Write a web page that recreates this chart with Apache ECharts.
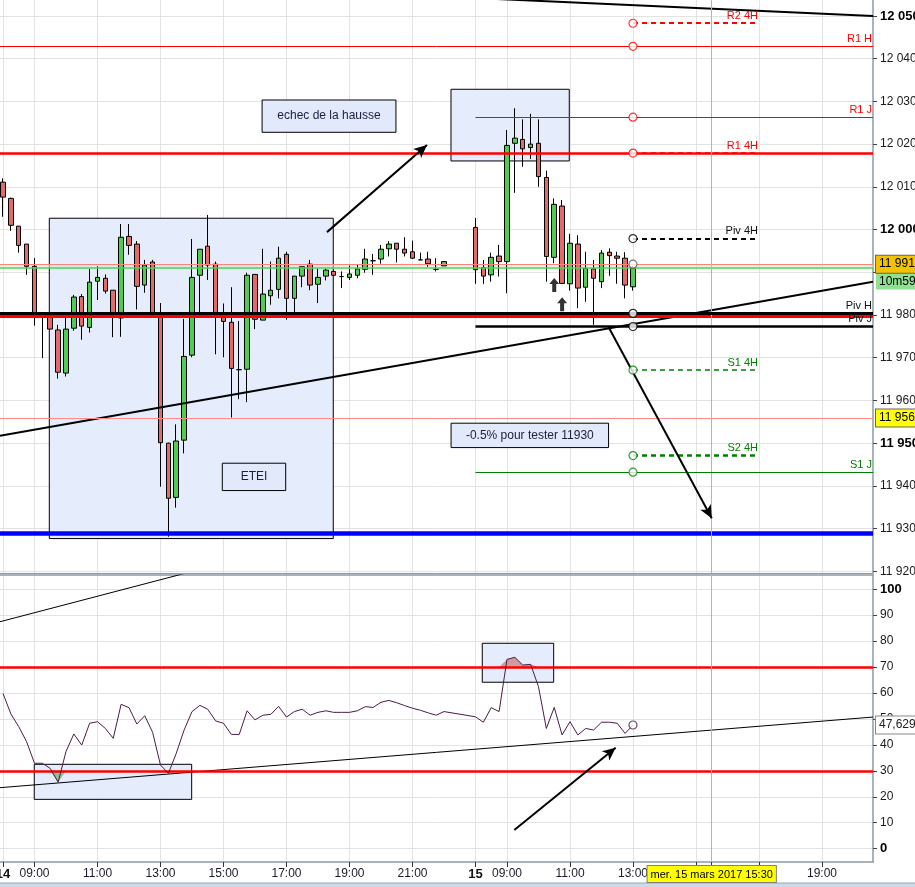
<!DOCTYPE html>
<html><head><meta charset="utf-8">
<script src="https://cdn.jsdelivr.net/npm/echarts/dist/echarts.min.js"></script>
<style>html,body{margin:0;padding:0;background:#fff;}#c{width:915px;height:887px;}</style>
</head><body><div id="c"></div>
<script>
// ---------- DATA ----------
// 15-minute bars, session-compressed time axis (session 08:00 -> 23:00, then next day 08:00)
const FIRST_DAY = 14, SESSION_OPEN_H = 8, SLOTS_PER_SESSION = 60;
const ohlc14Start = '14 08:00';
const ohlc15Start = '15 08:00';
// [open, close, low, high]
const ohlc14 = [
[12011.1,12007.6,12003.0,12012.0],[12007.3,12001.0,11999.7,12007.5],[12000.8,11996.3,11994.6,12000.8],[11996.6,11991.4,11989.4,11996.6],
[11991.4,11979.9,11977.5,11993.3],[11980.2,11980.2,11969.9,11980.5],[11980.0,11976.7,11976.7,11980.0],[11976.5,11966.6,11965.1,11977.7],
[11966.4,11976.7,11965.6,11979.3],[11976.9,11984.2,11976.3,11984.7],[11984.3,11977.4,11974.2,11984.9],[11977.1,11987.7,11975.9,11990.8],
[11987.9,11988.8,11983.5,11991.4],[11988.6,11985.6,11985.0,11989.5],[11985.8,11979.6,11974.8,11985.8],[11979.3,11998.2,11974.9,12001.3],
[11998.4,11996.3,11994.1,12001.3],[11996.6,11986.7,11981.3,11997.3],[11987.0,11991.7,11985.2,11992.9],[11992.4,11979.9,11979.5,11992.9],
[11980.0,11950.1,11939.8,11982.8],[11950.0,11937.1,11928.1,11950.1],[11937.3,11950.5,11934.9,11954.4],[11950.7,11970.3,11947.6,11979.1],
[11970.6,11988.8,11970.1,11997.8],[11989.3,11995.4,11979.9,11995.4],[11996.1,11991.7,11988.2,12003.4],[11991.9,11979.9,11970.8,11992.5],
[11980.3,11978.5,11970.1,11982.7],[11978.3,11967.5,11956.0,11986.5],[11967.2,11967.2,11960.3,11978.6],[11967.3,11989.3,11959.6,11989.9],
[11989.5,11979.0,11976.7,11989.5],[11978.8,11984.9,11978.8,11995.5],[11984.5,11985.8,11982.4,11992.5],[11986.0,11993.3,11983.9,11996.0],
[11994.2,11983.9,11978.9,11994.8],[11983.9,11989.1,11979.9,11989.1],[11989.1,11991.3,11986.5,11991.3],[11991.9,11987.0,11985.8,11992.9],
[11987.2,11988.8,11982.8,11990.9],[11989.1,11990.5,11988.1,11990.9],[11990.2,11989.3,11989.3,11990.3],[11989.0,11989.0,11986.3,11990.2],
[11988.8,11989.6,11988.2,11991.6],[11989.3,11990.8,11988.6,11991.7],[11990.7,11993.1,11989.9,11995.5],[11992.7,11992.7,11989.4,11994.3],
[11993.1,11995.4,11992.0,11996.4],[11995.5,11996.6,11993.7,11997.3],[11996.8,11995.4,11992.3,11996.8],[11995.4,11994.5,11993.7,11998.2],
[11994.8,11993.3,11993.1,11997.4],[11992.9,11992.9,11992.9,11994.6],[11993.1,11992.0,11991.3,11994.8],[11990.7,11990.7,11990.2,11993.3],
[11991.5,11992.5,11991.5,11992.5]
];
const ohlc15 = [
[12000.5,11990.6,11987.3,12002.7],[11991.1,11989.1,11987.3,11992.9],[11989.4,11993.5,11987.8,11994.6],[11993.8,11992.5,11989.0,11996.4],
[11992.5,12019.7,11985.1,12023.3],[12020.2,12021.4,12008.6,12028.4],[12021.1,12018.9,12014.7,12025.8],[12019.2,12020.0,12016.5,12027.1],
[12020.2,12012.4,12010.0,12025.8],[12012.2,11993.7,11987.8,12013.8],[11993.5,12005.9,11992.1,12007.3],[12005.5,11987.4,11987.4,12006.9],
[11987.3,11996.8,11985.7,11999.0],[11996.6,11986.3,11981.6,11998.7],[11986.5,11990.9,11983.1,11994.8],[11990.8,11988.6,11977.7,11992.9],
[11987.8,11994.5,11986.3,11995.2],[11994.7,11993.9,11989.2,11995.6],[11993.8,11993.3,11987.3,11994.8],[11993.3,11987.0,11983.9,11994.7],
[11986.6,11990.9,11985.7,11991.5]
];
const rsi14 = [59.8,51.9,47.0,41.2,32.9,32.9,30.9,25.6,37.4,44.2,39.9,48.3,48.9,46.3,42.5,55.6,54.3,48.0,51.2,44.8,
32.2,29.0,36.7,45.7,52.8,55.2,53.7,49.2,48.3,44.0,44.0,53.1,49.6,51.4,51.7,54.8,50.7,52.8,53.7,51.4,
52.5,53.1,52.5,52.5,52.5,53.1,54.7,54.4,56.4,57.1,56.2,55.1,54.1,53.3,52.3,51.4,52.8];
const rsi15 = [50.8,48.7,54.3,52.8,72.9,73.7,70.7,71.0,62.4,46.3,54.4,43.8,48.9,43.8,46.3,45.7,48.7,48.7,48.3,44.4,47.629];
const rsiLast = '47,629';

const xTickTimes = ['14 08:00','14 09:00','14 11:00','14 13:00','14 15:00','14 17:00','14 19:00','14 21:00','15 08:00','15 09:00','15 11:00','15 13:00','15 15:00','15 15:30','15 17:00','15 19:00'];
const xLabelTimes = ['14 08:00','14 09:00','14 11:00','14 13:00','14 15:00','14 17:00','14 19:00','14 21:00','15 08:00','15 09:00','15 11:00','15 13:00','15 19:00'];
const xLabelTexts = ['14','09:00','11:00','13:00','15:00','17:00','19:00','21:00','15','09:00','11:00','13:00','19:00'];
const priceTicks = [11920,11930,11940,11950,11960,11970,11980,11990,12000,12010,12020,12030,12040,12050];
const rsiTicks = [0,10,20,30,40,50,60,70,80,90,100];

const pivotNames = ['R2 4H','R1 H','R1 J','R1 4H','Piv 4H','Piv H','Piv J','S1 4H','S2 4H','S1 J'];
const pivotValues = [12048.3,12042.9,12026.3,12017.9,11997.9,11980.4,11977.3,11967.1,11947.1,11943.2];
const pivotAnchorTime = '15 13:00', pivot4HEndTime = '15 17:00', dayStartTime = '15 08:00';

const lastPriceA = 11991.9, lastPriceB = 11991.1, lastPriceText = '11 991,', timerText = '10m59s';
const alertLevel = 11955.9, alertText = '11 956,';
const resistLine = 12017.9, supportRed = 11979.7, targetBlue = 11928.8;
const rsiHigh = 70, rsiLow = 30;
const cursorTime = '15 15:30', cursorText = 'mer. 15 mars 2017 15:30';

// trend lines [slot, value]
const trendPrice = [[-0.381,11951.7],[110.48,11987.8]];
const trendTop = [[60,12054.2],[110.48,12050.0]];
const rsiTrendUp = [[-0.381,87.4],[30,111.5]];
const rsiTrendLow = [[-0.381,23.5],[110.48,50.7]];
// annotations
const zoneBig = [[5.88,11927.66],[41.94,12002.65]];
const zoneTop = [[56.89,12016.06],[71.91,12032.84]];
const rsiZone1 = [[3.97,19.0],[23.96,32.5]];
const rsiZone2 = [[60.86,64.1],[69.93,79.1]];
const notes = [
  {text:'echec de la hausse', from:[32.9,12022.77], to:[49.9,12030.33]},
  {text:'ETEI', from:[27.85,11938.9], to:[35.9,11945.3]},
  {text:'-0.5% pour tester 11930', from:[56.9,11948.96], to:[76.9,11954.67]}
];
const arrowsPrice = [[[41.14,11999.4],[53.84,12019.8]],[[76.86,11977.3],[90.0,11932.4]]];
const arrowRsi = [[64.93,7.2],[77.8,38.9]];
const blockArrows = [[70,11987.0],[71,11982.5]];

// ---------- HELPERS ----------
function slotOf(t){const p=t.split(' ');const hm=p[1].split(':').map(Number);return (Number(p[0])-FIRST_DAY)*SLOTS_PER_SESSION+(hm[0]-SESSION_OPEN_H)*4+hm[1]/15;}
function fmt(v){return String(v).replace(/\B(?=(\d{3})+(?!\d))/g,' ');}
const X_MIN=-0.381, X_MAX=110.48;
const PRICE_MIN=11919.6, PRICE_MAX=12053.74, RSI_MIN=-5.12, RSI_MAX=105.39;
const FONT='Liberation Sans, Arial, sans-serif';
const FS=11;
const GRID_C='#e3e3e3', AXIS_C='#8c9aa6';
const RED='#ff0000', GREEN='#008000', BLACK='#000000';

const s14=slotOf(ohlc14Start), s15=slotOf(ohlc15Start);
const candles=[];
ohlc14.forEach((d,i)=>candles.push([s14+i,d[0],d[1],d[2],d[3]]));
ohlc15.forEach((d,i)=>candles.push([s15+i,d[0],d[1],d[2],d[3]]));
const rsiData=rsi14.map((v,i)=>[s14+i,v]).concat(rsi15.map((v,i)=>[s15+i,v]));

const tickSlots=xTickTimes.map(slotOf);
const labelSlots=xLabelTimes.map(slotOf);
const labelBySlot={};labelSlots.forEach((s,i)=>labelBySlot[s]=xLabelTexts[i]);

const aX=slotOf(pivotAnchorTime), eX=slotOf(pivot4HEndTime), dX=slotOf(dayStartTime);
const pivStyle={
 'R2 4H':{c:RED,w:2,dash:'dashed'},'R1 H':{c:RED,w:1,dash:'solid'},'R1 J':{c:RED,w:1,dash:'solid'},
 'R1 4H':{c:RED,w:1.5,dash:'dashed'},'Piv 4H':{c:BLACK,w:2,dash:'dashed'},'Piv H':{c:BLACK,w:3,dash:'solid'},
 'Piv J':{c:BLACK,w:2.5,dash:'solid'},'S1 4H':{c:GREEN,w:1.5,dash:'dashed'},'S2 4H':{c:GREEN,w:2.5,dash:'dashed'},'S1 J':{c:GREEN,w:1,dash:'solid'}
};
const levelLines=[];
pivotNames.forEach((n,i)=>{
  const v=pivotValues[i],st=pivStyle[n],per=n.split(' ')[1];
  const ls={color:st.c,width:st.w,type:st.dash==='dashed'?[5,4]:'solid'};
  const lb={show:true,formatter:n,position:'insideEndTop',distance:[1,2],color:st.c===BLACK?'#111':st.c,fontSize:FS,fontFamily:FONT};
  if(per==='H') levelLines.push({yAxis:v,lineStyle:ls,label:lb});
  else if(per==='J') levelLines.push([{coord:[dX,v],lineStyle:ls,label:lb},{coord:[X_MAX,v]}]);
  else levelLines.push([{coord:[aX,v],lineStyle:ls,label:lb},{coord:[eX,v]}]);
});
const noLbl={show:false};
const boxLbl=(txt,bg)=>({show:true,position:'end',distance:3,formatter:txt,backgroundColor:bg,borderColor:'#666',borderWidth:1,padding:[3,3,2,3],color:'#000',fontSize:FS+1,fontFamily:FONT});
const plainLines=[
 {yAxis:resistLine,lineStyle:{color:RED,width:2.5,type:'solid'},label:noLbl},
 {yAxis:supportRed,lineStyle:{color:RED,width:3,type:'solid'},label:noLbl},
 {yAxis:targetBlue,lineStyle:{color:'#0000ff',width:4.5,type:'solid'},label:noLbl},
 {yAxis:alertLevel,lineStyle:{color:'#ff8a8a',width:1,type:'solid'},label:boxLbl(alertText,'#ffff00')},
 {yAxis:lastPriceB,lineStyle:{color:'#4cd64c',width:1.5,type:'solid'},label:{show:true,position:'end',distance:3,formatter:'{s|}\n{g|'+timerText+'}',rich:{s:{height:27},g:{backgroundColor:'#8fe08f',padding:[3,3,2,3],color:'#000',fontSize:FS+1,fontFamily:FONT}}}},
 {yAxis:lastPriceA,lineStyle:{color:'#ff8080',width:1,type:'solid'},label:boxLbl(lastPriceText,'#f3c300')},
 {xAxis:slotOf(cursorTime),lineStyle:{color:'#f39a9a',width:1,type:'solid'},label:noLbl}
];
const circleData=pivotValues.map((v,i)=>({value:[aX,v],itemStyle:{borderColor:pivStyle[pivotNames[i]].c}}));
circleData.push({value:[aX,lastPriceA],itemStyle:{borderColor:'#555'}});

const boxStyle={color:'rgba(228,235,252,0.95)',borderColor:'#000',borderWidth:1};
const noteStyle={color:'#e2e9fa',borderColor:'#000',borderWidth:1};
function area(a,name){return [{coord:a[0],name:name||''},{coord:a[1]}];}
const gridBase={left:0,right:42,containLabel:false,outerBoundsMode:'none'};

const option={
 animation:false,
 textStyle:{fontFamily:FONT},
 graphic:[
  {type:'rect',shape:{x:0,y:883,width:915,height:4},style:{fill:'#cddbe7'},silent:true},
  {type:'line',shape:{x1:0,y1:883,x2:915,y2:883},style:{stroke:'#8fa9bd',lineWidth:1},silent:true}
 ],
 grid:[Object.assign({top:0,height:573},gridBase),Object.assign({top:575,height:287},gridBase)],
 xAxis:[
  {type:'value',gridIndex:0,min:X_MIN,max:X_MAX,axisLine:{show:true,onZero:false,lineStyle:{color:AXIS_C}},
   axisTick:{show:false,customValues:tickSlots},axisLabel:{show:false,customValues:labelSlots},splitLine:{show:true,lineStyle:{color:GRID_C}}},
  {type:'value',gridIndex:1,position:'bottom',min:X_MIN,max:X_MAX,axisLine:{show:true,onZero:false,lineStyle:{color:AXIS_C,width:1.5}},
   axisTick:{show:true,length:5,customValues:tickSlots,lineStyle:{color:'#333'}},
   axisLabel:{show:true,customValues:labelSlots,margin:6,fontSize:FS+1,color:'#1a1a2a',fontFamily:FONT,
     formatter:v=>{const t=labelBySlot[v]||labelBySlot[Math.round(v)];if(!t)return '';return t.indexOf(':')<0?'{b|'+t+'}':t;},
     rich:{b:{fontWeight:'bold',fontSize:FS+2,color:'#111'}}},
   splitLine:{show:true,lineStyle:{color:GRID_C}}},
  {type:'value',gridIndex:1,position:'top',min:X_MIN,max:X_MAX,axisLine:{show:true,onZero:false,lineStyle:{color:AXIS_C,width:1.5}},
   axisTick:{show:false},axisLabel:{show:false},splitLine:{show:false}}
 ],
 yAxis:[
  {type:'value',gridIndex:0,position:'right',min:PRICE_MIN,max:PRICE_MAX,axisLine:{show:true,onZero:false,lineStyle:{color:AXIS_C,width:1.5}},
   axisTick:{show:true,length:4,customValues:priceTicks,lineStyle:{color:'#444'}},
   axisLabel:{show:true,customValues:priceTicks,margin:7,fontSize:FS+1,color:'#1a1a1a',fontFamily:FONT,
     formatter:v=>{const r=Math.round(v);const s=fmt(r);return r%50===0?'{b|'+s+'}':s;},rich:{b:{fontWeight:'bold',fontSize:FS+2,color:'#000'}}},
   splitLine:{show:true,lineStyle:{color:GRID_C}}},
  {type:'value',gridIndex:1,position:'right',min:RSI_MIN,max:RSI_MAX,axisLine:{show:true,onZero:false,lineStyle:{color:AXIS_C,width:1.5}},
   axisTick:{show:true,length:4,customValues:rsiTicks,lineStyle:{color:'#444'}},
   axisLabel:{show:true,customValues:rsiTicks,margin:7,fontSize:FS+1,color:'#1a1a1a',fontFamily:FONT,
     formatter:v=>{const r=Math.round(v);return (r===0||r===100)?'{b|'+r+'}':String(r);},rich:{b:{fontWeight:'bold',fontSize:FS+2,color:'#000'}}},
   splitLine:{show:true,lineStyle:{color:GRID_C}}}
 ],
 series:[
  {type:'line',xAxisIndex:0,yAxisIndex:0,data:[],z:1,silent:true,
   markArea:{silent:true,itemStyle:boxStyle,label:{show:false},data:[area(zoneBig),area(zoneTop)]}},
  {type:'line',xAxisIndex:0,yAxisIndex:0,data:[],z:1,silent:true,
   markArea:{silent:true,itemStyle:{color:'rgba(205,240,205,0.6)'},label:{show:false},data:[[{yAxis:lastPriceB},{yAxis:lastPriceA}]]}},
  {type:'candlestick',xAxisIndex:0,yAxisIndex:0,data:candles,encode:{x:0,y:[1,2,3,4]},barWidth:5,z:3,
   itemStyle:{color:'#50cd50',color0:'#e46a6a',borderColor:'#000',borderColor0:'#000',borderColorDoji:'#000',borderWidth:1}},
  {type:'line',xAxisIndex:0,yAxisIndex:0,data:trendPrice,symbol:'none',clip:true,z:4,lineStyle:{color:'#000',width:2},silent:true},
  {type:'line',xAxisIndex:0,yAxisIndex:0,data:trendTop,symbol:'none',clip:true,z:4,lineStyle:{color:'#000',width:2},silent:true},
  {type:'line',xAxisIndex:0,yAxisIndex:0,data:[],z:5,silent:true,
   markLine:{silent:true,symbol:['none','none'],animation:false,data:plainLines.concat(levelLines)}},
  {type:'line',xAxisIndex:0,yAxisIndex:0,data:[],z:6,silent:true,
   markLine:{silent:true,symbol:['none','arrow'],symbolSize:[9,13],lineStyle:{color:'#000',width:2,type:'solid'},label:{show:false},
     data:arrowsPrice.map(a=>[{coord:a[0]},{coord:a[1]}])}},
  {type:'scatter',xAxisIndex:0,yAxisIndex:0,data:circleData,symbol:'circle',symbolSize:8,z:7,silent:true,
   itemStyle:{color:'#fff',borderWidth:1.2}},
  {type:'scatter',xAxisIndex:0,yAxisIndex:0,data:blockArrows,symbol:'path://M5 0 L10 6 L7 6 L7 14 L3 14 L3 6 L0 6 Z',symbolSize:[10,14],z:7,silent:true,itemStyle:{color:'#000'}},
  {type:'line',xAxisIndex:0,yAxisIndex:0,data:[],z:8,silent:true,
   markArea:{silent:true,itemStyle:noteStyle,label:{show:true,position:'inside',color:'#1c1c40',fontSize:FS+1,fontFamily:FONT},
     data:notes.map(n=>[{coord:n.from,name:n.text},{coord:n.to}])}},

  // ---------- RSI ----------
  {type:'line',xAxisIndex:1,yAxisIndex:1,data:[],z:1,silent:true,
   markArea:{silent:true,itemStyle:boxStyle,label:{show:false},data:[area(rsiZone1),area(rsiZone2)]}},
  {type:'line',xAxisIndex:1,yAxisIndex:1,data:rsiData.map(d=>[d[0],Math.min(d[1],rsiLow)]),symbol:'none',lineStyle:{opacity:0},
   areaStyle:{color:'#93bd93',opacity:1,origin:rsiLow},z:2,silent:true},
  {type:'line',xAxisIndex:1,yAxisIndex:1,data:rsiData.map(d=>[d[0],Math.max(d[1],rsiHigh)]),symbol:'none',lineStyle:{opacity:0},
   areaStyle:{color:'#cf9c9c',opacity:1,origin:rsiHigh},z:2,silent:true},
  {type:'line',xAxisIndex:1,yAxisIndex:1,data:rsiTrendUp,symbol:'none',clip:true,z:3,lineStyle:{color:'#000',width:1},silent:true},
  {type:'line',xAxisIndex:1,yAxisIndex:1,data:rsiTrendLow,symbol:'none',clip:true,z:3,lineStyle:{color:'#000',width:1},silent:true},
  {type:'line',xAxisIndex:1,yAxisIndex:1,data:[],z:4,silent:true,
   markLine:{silent:true,symbol:['none','none'],data:[
     {yAxis:rsiHigh,lineStyle:{color:RED,width:2.5,type:'solid'},label:noLbl},
     {yAxis:rsiLow,lineStyle:{color:RED,width:2.5,type:'solid'},label:noLbl},
     {yAxis:rsi15[rsi15.length-1],lineStyle:{color:'rgba(0,0,0,0)',width:0},label:Object.assign(boxLbl(rsiLast,'#fff'),{color:'#222',borderColor:'#888'})},
     {xAxis:slotOf(cursorTime),lineStyle:{color:'#f39a9a',width:1,type:'solid'},label:{show:true,position:'start',distance:4,formatter:cursorText,backgroundColor:'#ffff00',borderColor:'#808080',borderWidth:1,padding:[3,3,2,3],color:'#000',fontSize:FS,fontFamily:FONT}}
   ]}},
  {type:'line',xAxisIndex:1,yAxisIndex:1,data:rsiData,symbol:'none',z:5,lineStyle:{color:'#4a1c48',width:1},silent:true},
  {type:'scatter',xAxisIndex:1,yAxisIndex:1,data:[rsiData[rsiData.length-1]],symbol:'circle',symbolSize:8,z:6,silent:true,itemStyle:{color:'#fff',borderColor:'#4a1c48',borderWidth:1.2}},
  {type:'line',xAxisIndex:1,yAxisIndex:1,data:[],z:6,silent:true,
   markLine:{silent:true,symbol:['none','arrow'],symbolSize:[9,13],lineStyle:{color:'#000',width:2,type:'solid'},label:{show:false},
     data:[[{coord:arrowRsi[0]},{coord:arrowRsi[1]}]]}}
 ]
};
const chart=echarts.init(document.getElementById('c'));
chart.setOption(option);
</script></body></html>
